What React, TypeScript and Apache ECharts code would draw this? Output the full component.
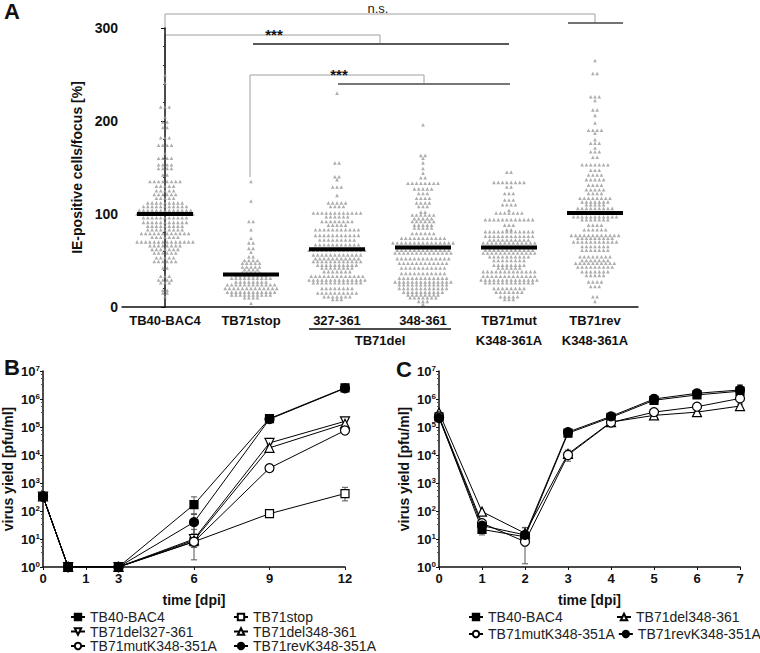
import React, { useEffect, useRef } from 'react';
import * as echarts from 'echarts';

const FONT = '"Liberation Sans", Arial, Helvetica, sans-serif';

// ---------- Panel A data ----------
const groupLabels = ['TB40-BAC4', 'TB71stop', '327-361', '348-361', 'TB71mut\nK348-361A', 'TB71rev\nK348-361A'];
// rows of the beeswarm: [value, number of points in the row]
const bac4Rows = [[249,1],[241,1],[215,3],[204,1],[199,2],[193,2],[182,3],[174,4],[165,1],[160,4],[153,4],[149,4],[142,2],[135,8],[130,5],[125,5],[121,6],[117,5],[112,9],[108,11],[104,13],[100,14],[96,11],[91,11],[87,9],[83,9],[79,12],[75,7],[70,14],[66,8],[62,7],[58,6],[53,5],[49,6],[42,2],[33,3],[29,4],[26,3],[18,2],[15,2],[11,1]];
const stopRows = [[135,1],[114,1],[92,2],[83,1],[74,1],[69,2],[63,2],[59,1],[54,2],[50,4],[47,5],[43,5],[40,4],[37,5],[34,8],[31,10],[27,8],[24,12],[20,13],[16,12],[13,10],[10,4],[4,1]];
const del327Rows = [[230,1],[155,2],[140,2],[137,1],[129,3],[120,1],[112,5],[108,4],[101,12],[97,6],[92,8],[88,5],[83,11],[77,11],[72,9],[67,11],[61,14],[56,12],[52,11],[49,12],[45,10],[42,8],[38,7],[33,13],[29,14],[26,12],[20,8],[15,10],[11,7],[8,3]];
const del348Rows = [[196,1],[163,2],[160,1],[155,1],[149,1],[144,1],[139,2],[133,8],[127,5],[122,3],[117,4],[112,4],[108,3],[102,2],[99,6],[95,5],[92,6],[88,5],[85,5],[79,6],[74,11],[69,15],[65,12],[61,13],[58,14],[52,13],[47,12],[42,11],[36,11],[31,12],[27,14],[24,12],[20,12],[16,10],[13,8],[10,7],[6,3],[3,1]];
const mutRows = [[145,2],[134,8],[129,2],[122,3],[115,3],[110,4],[104,1],[101,7],[94,12],[88,3],[83,2],[81,12],[76,12],[72,10],[69,13],[65,12],[61,12],[58,13],[54,10],[50,8],[45,8],[42,6],[38,13],[33,13],[29,14],[26,12],[20,8],[16,7],[11,5],[8,3]];
const revRows = [[265,1],[251,2],[226,3],[222,1],[212,2],[206,1],[198,1],[190,4],[187,1],[180,1],[176,3],[171,1],[167,3],[161,2],[153,7],[147,3],[142,4],[137,5],[131,4],[126,5],[122,4],[117,8],[113,7],[110,5],[106,9],[102,8],[97,11],[94,7],[88,4],[83,6],[77,12],[74,9],[70,11],[65,7],[61,7],[54,8],[50,7],[47,10],[43,9],[38,7],[34,5],[27,4],[22,3],[11,2],[6,1]];
const groupRows = [bac4Rows, stopRows, del327Rows, del348Rows, mutRows, revRows];
const groupMeans = [100, 35, 62, 64, 64, 101];

// ---------- Panel B data ----------
const timeB = [0, 1, 3, 6, 9, 12];
const timeBTickValues = [0, 1.7, 3, 6, 9, 12];
const timeBTickLabels = ['0', '1', '3', '6', '9', '12'];
const bac4B = [330, 1, 1, 170, 2.0e5, 2.5e6];
const stopB = [330, 1, 1, 8, 80, 420];
const del327B = [330, 1, 1, 10, 2.7e4, 1.6e5];
const del348B = [330, 1, 1, 9, 1.8e4, 1.3e5];
const mutB = [330, 1, 1, 8, 3.4e3, 7.5e4];
const revB = [330, 1, 1, 40, 1.9e5, 2.4e6];
// error bars: [time, low, high]
const errB = [
  [6, 80, 320], [9, 1.5e5, 2.7e5], [12, 2.1e6, 2.9e6],
  [6, 1.8, 30], [9, 60, 105], [12, 230, 700],
  [9, 2.0e4, 3.9e4], [12, 1.3e5, 2.0e5],
  [6, 5, 22], [9, 1.3e4, 2.5e4],
  [6, 5, 15], [9, 2.6e3, 4.6e3], [12, 6.0e4, 9.0e4],
  [6, 15, 75],
];

// ---------- Panel C data ----------
const timeC = [0, 1, 2, 3, 4, 5, 6, 7];
const bac4C = [2.3e5, 22, 12, 6.0e4, 2.2e5, 9.0e5, 1.4e6, 1.9e6];
const del348C = [3.3e5, 95, 16, 1.1e4, 1.5e5, 2.6e5, 3.4e5, 5.6e5];
const mutC = [2.4e5, 37, 8, 1.0e4, 1.45e5, 3.4e5, 5.3e5, 1.05e6];
const revC = [2.1e5, 30, 14, 6.6e4, 2.4e5, 1.0e6, 1.6e6, 2.1e6];
const errC = [
  [1, 14, 32], [3, 4.5e4, 8.0e4], [5, 7.0e5, 1.4e6], [6, 1.1e6, 1.9e6], [7, 1.5e6, 2.8e6],
  [6, 1.3e6, 2.1e6], [7, 1.7e6, 3.2e6],
  [2, 1.3, 25], [3, 6.0e3, 1.5e4],
  [2, 10, 26], [5, 2.2e5, 3.2e5], [7, 4.8e5, 6.6e5],
];

const legendB = ['TB40-BAC4', 'TB71stop', 'TB71del327-361', 'TB71del348-361', 'TB71mutK348-351A', 'TB71revK348-351A'];
const legendC = ['TB40-BAC4', 'TB71del348-361', 'TB71mutK348-351A', 'TB71revK348-351A'];

const AXIS_COLOR = '#111';

function swarm(rows: number[][], gi: number, step: number) {
  const pts: number[][] = [];
  rows.forEach(([v, n]) => {
    for (let j = 0; j < n; j++) pts.push([gi + (j - (n - 1) / 2) * step, v]);
  });
  return pts;
}

function logAxis(gridIndex: number, name: string) {
  return {
    type: 'log', logBase: 10, gridIndex, min: 1, max: 1e7,
    name, nameLocation: 'middle', nameGap: 28,
    nameTextStyle: { fontFamily: FONT, fontWeight: 'bold', fontSize: 14, color: '#111' },
    axisLine: { show: true, lineStyle: { color: AXIS_COLOR, width: 1.5 } },
    axisTick: { show: true, length: 3, lineStyle: { color: AXIS_COLOR } },
    minorTick: { show: true, splitNumber: 4, length: 2, lineStyle: { color: '#555' } },
    splitLine: { show: false },
    axisLabel: {
      margin: 3,
      formatter: (v: number) => '{a|10}{b|' + Math.round(Math.log10(v)) + '}',
      rich: {
        a: { fontFamily: FONT, fontWeight: 'bold', fontSize: 13, color: '#111' },
        b: { fontFamily: FONT, fontWeight: 'bold', fontSize: 8, color: '#111', verticalAlign: 'top' },
      },
    },
  };
}

function lineSeries(name: string, xs: number[], ys: number[], xi: number, yi: number, symbol: string, filled: boolean, rotate = 0) {
  return {
    type: 'line', name, xAxisIndex: xi, yAxisIndex: yi,
    data: xs.map((x, i) => [x, ys[i]]),
    symbol, symbolSize: symbol === 'rect' ? 8 : 9, symbolRotate: rotate,
    showAllSymbol: true,
    lineStyle: { color: '#000', width: 1 },
    itemStyle: { color: filled ? '#000' : '#fff', borderColor: '#000', borderWidth: 1.2 },
    z: 3,
  };
}

function errSeries(data: number[][], xi: number, yi: number) {
  return {
    type: 'custom', xAxisIndex: xi, yAxisIndex: yi, data, z: 2, silent: true,
    renderItem: (params: any, api: any) => {
      const lo = api.coord([api.value(0), api.value(1)]);
      const hi = api.coord([api.value(0), api.value(2)]);
      const st = { stroke: '#555', lineWidth: 1 };
      return {
        type: 'group',
        children: [
          { type: 'line', shape: { x1: lo[0], y1: lo[1], x2: hi[0], y2: hi[1] }, style: st },
          { type: 'line', shape: { x1: lo[0] - 3, y1: lo[1], x2: lo[0] + 3, y2: lo[1] }, style: st },
          { type: 'line', shape: { x1: hi[0] - 3, y1: hi[1], x2: hi[0] + 3, y2: hi[1] }, style: st },
        ],
      };
    },
  };
}

function legend(data: string[], left: number, top: number, width: number, textWidth: number, gap: number) {
  return {
    data, left, top, width, orient: 'horizontal', itemGap: gap, itemWidth: 14, itemHeight: 8,
    padding: 0, selectedMode: false,
    textStyle: { fontFamily: FONT, fontSize: 14, color: '#222', lineHeight: 14, width: textWidth },
  };
}

export default function App() {
  const ref = useRef<HTMLDivElement>(null);
  useEffect(() => {
    document.body.style.margin = '0';
    const chart = echarts.init(ref.current!, null, { renderer: 'svg' });
    const step = 4.3 / 86;
    const swarmData: number[][] = [];
    groupRows.forEach((rows, gi) => swarmData.push(...swarm(rows, gi, step)));

    const grey = '#a0a0a0';
    const option: any = {
      animation: false,
      backgroundColor: '#fff',
      textStyle: { fontFamily: FONT },
      grid: [
        { left: 122, right: 122, top: 28, bottom: 346 },
        { left: 43, right: 415, top: 371, bottom: 86 },
        { left: 439, right: 20, top: 371, bottom: 86 },
      ],
      legend: [
        legend(legendB, 70, 610, 330, 142.5, 0.5),
        legend(legendC, 468, 610, 300, 125, 3),
      ],
      xAxis: [
        {
          type: 'category', gridIndex: 0, data: groupLabels, boundaryGap: true,
          axisLine: { lineStyle: { color: AXIS_COLOR, width: 1.5 } },
          axisTick: { alignWithLabel: true, length: 4, lineStyle: { color: AXIS_COLOR } },
          axisLabel: { interval: 0, margin: 3, fontFamily: FONT, fontWeight: 'bold', fontSize: 13, color: '#111', lineHeight: 20 },
        },
        { type: 'value', gridIndex: 0, min: -0.5, max: 5.5, show: false },
        {
          type: 'value', gridIndex: 1, min: 0, max: 12,
          name: 'time [dpi]', nameLocation: 'middle', nameGap: 26,
          nameTextStyle: { fontFamily: FONT, fontWeight: 'bold', fontSize: 14, color: '#111' },
          axisLine: { lineStyle: { color: AXIS_COLOR, width: 1.5 } },
          axisTick: { length: 3, customValues: timeBTickValues, lineStyle: { color: AXIS_COLOR } },
          splitLine: { show: false },
          axisLabel: {
            customValues: timeBTickValues, margin: 5,
            formatter: (v: number) => timeBTickLabels[timeBTickValues.indexOf(v)] ?? '',
            fontFamily: FONT, fontWeight: 'bold', fontSize: 13, color: '#111',
          },
        },
        {
          type: 'value', gridIndex: 2, min: 0, max: 7, interval: 1,
          name: 'time [dpi]', nameLocation: 'middle', nameGap: 26,
          nameTextStyle: { fontFamily: FONT, fontWeight: 'bold', fontSize: 14, color: '#111' },
          axisLine: { lineStyle: { color: AXIS_COLOR, width: 1.5 } },
          axisTick: { length: 3, lineStyle: { color: AXIS_COLOR } },
          splitLine: { show: false },
          axisLabel: { margin: 5, fontFamily: FONT, fontWeight: 'bold', fontSize: 13, color: '#111' },
        },
      ],
      yAxis: [
        {
          type: 'value', gridIndex: 0, min: 0, max: 300, interval: 100,
          name: 'IE-positive cells/focus [%]', nameLocation: 'middle', nameGap: 38,
          nameTextStyle: { fontFamily: FONT, fontWeight: 'bold', fontSize: 14, color: '#111' },
          axisLine: { show: true, lineStyle: { color: AXIS_COLOR, width: 1.5 } },
          axisTick: { show: true, length: 4, lineStyle: { color: AXIS_COLOR } },
          minorTick: { show: true, splitNumber: 5, length: 2, lineStyle: { color: '#333' } },
          splitLine: { show: false },
          axisLabel: { margin: 4, fontFamily: FONT, fontWeight: 'bold', fontSize: 14, color: '#111' },
        },
        logAxis(1, 'virus yield [pfu/ml]'),
        logAxis(2, 'virus yield [pfu/ml]'),
      ],
      series: [
        {
          type: 'scatter', xAxisIndex: 1, yAxisIndex: 0, data: swarmData,
          symbol: 'triangle', symbolSize: 3.6, itemStyle: { color: '#999' }, silent: true,
        },
        {
          type: 'custom', xAxisIndex: 1, yAxisIndex: 0, z: 5,
          data: groupMeans.map((m, i) => [i, m]),
          renderItem: (params: any, api: any) => {
            const p = api.coord([api.value(0), api.value(1)]);
            return { type: 'line', shape: { x1: p[0] - 28, y1: p[1], x2: p[0] + 28, y2: p[1] }, style: { stroke: '#000', lineWidth: 4 } };
          },
        },
        errSeries(errB, 2, 1),
        lineSeries('TB40-BAC4', timeB, bac4B, 2, 1, 'rect', true),
        lineSeries('TB71stop', timeB, stopB, 2, 1, 'rect', false),
        lineSeries('TB71del327-361', timeB, del327B, 2, 1, 'triangle', false, 180),
        lineSeries('TB71del348-361', timeB, del348B, 2, 1, 'triangle', false),
        lineSeries('TB71mutK348-351A', timeB, mutB, 2, 1, 'circle', false),
        lineSeries('TB71revK348-351A', timeB, revB, 2, 1, 'circle', true),
        errSeries(errC, 3, 2),
        lineSeries('TB40-BAC4', timeC, bac4C, 3, 2, 'rect', true),
        lineSeries('TB71del348-361', timeC, del348C, 3, 2, 'triangle', false),
        lineSeries('TB71mutK348-351A', timeC, mutC, 3, 2, 'circle', false),
        lineSeries('TB71revK348-351A', timeC, revC, 3, 2, 'circle', true),
      ],
      graphic: [
        { type: 'text', left: 4, top: 0, style: { text: 'A', font: `bold 22px ${FONT}`, fill: '#111' } },
        { type: 'text', left: 4, top: 356, style: { text: 'B', font: `bold 22px ${FONT}`, fill: '#111' } },
        { type: 'text', left: 396, top: 358, style: { text: 'C', font: `bold 22px ${FONT}`, fill: '#111' } },
        // significance brackets
        { type: 'polyline', shape: { points: [[165, 28], [165, 14], [595, 14], [595, 23]] }, style: { stroke: grey, lineWidth: 1, fill: null } },
        { type: 'line', shape: { x1: 568, y1: 23, x2: 623, y2: 23 }, style: { stroke: '#444', lineWidth: 1.5 } },
        { type: 'text', x: 378, y: 8, style: { text: 'n.s.', font: `13px ${FONT}`, fill: '#222', textAlign: 'center', textVerticalAlign: 'middle' } },
        { type: 'polyline', shape: { points: [[165, 68], [165, 35], [380, 35], [380, 43]] }, style: { stroke: grey, lineWidth: 1, fill: null } },
        { type: 'line', shape: { x1: 253, y1: 44, x2: 509, y2: 44 }, style: { stroke: '#222', lineWidth: 1.5 } },
        { type: 'text', x: 274, y: 34, style: { text: '***', font: `bold 15px ${FONT}`, fill: '#111', textAlign: 'center', textVerticalAlign: 'middle' } },
        { type: 'polyline', shape: { points: [[250, 177], [250, 75], [424, 75], [424, 84]] }, style: { stroke: grey, lineWidth: 1, fill: null } },
        { type: 'line', shape: { x1: 338, y1: 84, x2: 510, y2: 84 }, style: { stroke: '#777', lineWidth: 2 } },
        { type: 'text', x: 339, y: 74, style: { text: '***', font: `bold 15px ${FONT}`, fill: '#111', textAlign: 'center', textVerticalAlign: 'middle' } },
        // TB71del group label
        { type: 'line', shape: { x1: 309, y1: 329, x2: 451, y2: 329 }, style: { stroke: '#111', lineWidth: 1.5 } },
        { type: 'text', x: 380, y: 340, style: { text: 'TB71del', font: `bold 13px ${FONT}`, fill: '#111', textAlign: 'center', textVerticalAlign: 'middle' } },
      ],
    };
    chart.setOption(option);
    return () => chart.dispose();
  }, []);
  return <div ref={ref} style={{ position: 'absolute', left: 0, top: 0, width: 760, height: 653 }} />;
}
